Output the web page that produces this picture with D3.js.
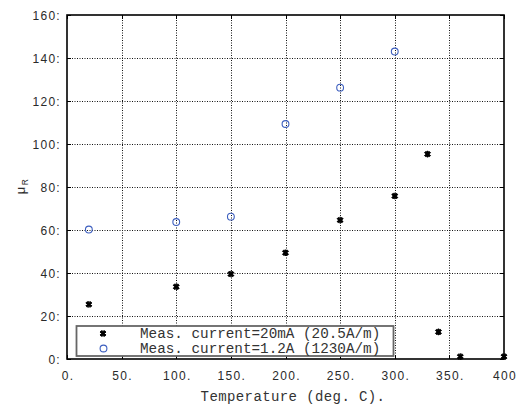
<!DOCTYPE html>
<html lang="en">
<head>
<meta charset="UTF-8">
<title>mu R vs temperature</title>
<style>
    body { margin: 0; background: #fff; }
    svg { display: block; }
    .tick-lbl { font-family: "Liberation Sans", Arial, sans-serif; font-size: 12px; letter-spacing: 1.3px; fill: #2a2a2a; }
    .mono { font-family: "Liberation Mono", "Courier New", monospace; fill: #333; }
</style>
</head>
<body>
<svg width="516" height="410"></svg>
<script src="https://cdn.jsdelivr.net/npm/d3@7.8.5/dist/d3.min.js"></script>
<script>
    // measured points
    const lowTemp = [20, 100, 150, 200, 250, 300, 330, 340, 360, 400]
    const lowMu = [25.4, 33.6, 39.5, 49.4, 64.6, 75.8, 95.3, 12.6, 1.1, 1.1]
    const highTemp = [20, 100, 150, 200, 250, 300]
    const highMu = [60.2, 63.7, 66.2, 109.3, 126.2, 143]

    const xTicks = [0, 50, 100, 150, 200, 250, 300, 350, 400]
    const xTickLabels = ['0.', '50.', '100.', '150.', '200.', '250.', '300.', '350.', '400']
    const yTicks = [0, 20, 40, 60, 80, 100, 120, 140, 160]
    const yTickLabels = ['0:', '20:', '40:', '60:', '80:', '100:', '120:', '140:', '160:']
    const legendLabels = ['Meas. current=20mA (20.5A/m)', 'Meas. current=1.2A (1230A/m)']

    const svg = d3.select('svg')
    const pL = 67, pR = 504, pT = 15, pB = 359

    const x = d3.scaleLinear().domain([0, 400]).range([pL, pR])
    const y = d3.scaleLinear().domain([0, 160]).range([pB, pT])

    // grid
    const grid = svg.append('g')
        .attr('stroke', '#111')
        .attr('stroke-width', 1)
        .attr('stroke-dasharray', '1,1.5')
    grid.selectAll('.gx').data(xTicks.slice(1, -1)).join('line')
        .attr('x1', d => Math.round(x(d)) + 0.5).attr('x2', d => Math.round(x(d)) + 0.5)
        .attr('y1', pT).attr('y2', pB)
    grid.selectAll('.gy').data(yTicks.slice(1, -1)).join('line')
        .attr('y1', d => Math.round(y(d)) + 0.5).attr('y2', d => Math.round(y(d)) + 0.5)
        .attr('x1', pL).attr('x2', pR)

    // inner tick marks
    const ticks = svg.append('g').attr('stroke', '#000').attr('stroke-width', 1)
    yTicks.forEach(v => {
        const yy = Math.round(y(v)) + 0.5
        ticks.append('line').attr('x1', pL).attr('x2', pL + 4).attr('y1', yy).attr('y2', yy)
        ticks.append('line').attr('x1', pR).attr('x2', pR - 4).attr('y1', yy).attr('y2', yy)
    })
    xTicks.forEach(v => {
        const xx = Math.round(x(v)) + 0.5
        ticks.append('line').attr('x1', xx).attr('x2', xx).attr('y1', pB).attr('y2', pB - 4)
        ticks.append('line').attr('x1', xx).attr('x2', xx).attr('y1', pT).attr('y2', pT + 4)
    })

    // tick labels
    svg.append('g').selectAll('text').data(xTicks).join('text')
        .attr('class', 'tick-lbl')
        .attr('x', d => x(d) + 1)
        .attr('y', pB + 21)
        .attr('text-anchor', 'middle')
        .text((d, i) => xTickLabels[i])
    svg.append('g').selectAll('text').data(yTicks).join('text')
        .attr('class', 'tick-lbl')
        .attr('x', pL - 6)
        .attr('y', d => y(d) + 4.5)
        .attr('text-anchor', 'end')
        .text((d, i) => yTickLabels[i])

    // axis titles
    svg.append('text')
        .attr('class', 'mono')
        .attr('x', 293).attr('y', 401)
        .attr('text-anchor', 'middle')
        .attr('font-size', 14)
        .attr('letter-spacing', 0.4)
        .text('Temperature (deg. C).')

    const yl = svg.append('text')
        .attr('class', 'tick-lbl')
        .attr('transform', 'translate(25,186) rotate(-90)')
        .attr('text-anchor', 'middle')
        .attr('letter-spacing', 0)
    yl.append('tspan').attr('font-size', 13).text('\u03bc')
    yl.append('tspan').attr('font-size', 8.5).attr('dy', 3).text('R')

    // markers
    const star = d3.symbol().type(d3.symbolAsterisk).size(30)
    function drawStar(g, cx, cy) {
        g.append('path')
            .attr('d', star())
            .attr('transform', `translate(${cx},${cy})`)
            .attr('stroke', '#000').attr('stroke-width', 1.2).attr('fill', 'none')
        g.append('path')
            .attr('d', d3.symbol().type(d3.symbolCross).size(22)())
            .attr('transform', `translate(${cx},${cy}) rotate(45)`)
            .attr('stroke', '#000').attr('stroke-width', 0.7).attr('fill', '#000')
    }

    const pts = svg.append('g')
    highTemp.forEach((t, i) => {
        pts.append('circle')
            .attr('cx', x(t)).attr('cy', y(highMu[i])).attr('r', 3.4)
            .attr('fill', 'none').attr('stroke', '#3d5fbf').attr('stroke-width', 1.1)
    })
    lowTemp.forEach((t, i) => drawStar(pts, x(t), y(lowMu[i])))

    // frame
    svg.append('rect')
        .attr('x', pL).attr('y', pT)
        .attr('width', pR - pL).attr('height', pB - pT)
        .attr('fill', 'none').attr('stroke', '#000').attr('stroke-width', 1.6)

    // legend
    const lg = svg.append('g')
    lg.append('rect')
        .attr('x', 76.5).attr('y', 326).attr('width', 317).attr('height', 30)
        .attr('fill', '#fff').attr('stroke', '#666').attr('stroke-width', 1.8)
    drawStar(lg, 103, 333.5)
    lg.append('circle').attr('cx', 103.5).attr('cy', 348.5).attr('r', 3.4)
        .attr('fill', 'none').attr('stroke', '#3d5fbf').attr('stroke-width', 1.1)
    legendLabels.forEach((s, i) => {
        lg.append('text')
            .attr('class', 'mono')
            .attr('x', 140).attr('y', 338 + i * 14.5)
            .attr('font-size', 14.3)
            .text(s)
    })
</script>
</body>
</html>
